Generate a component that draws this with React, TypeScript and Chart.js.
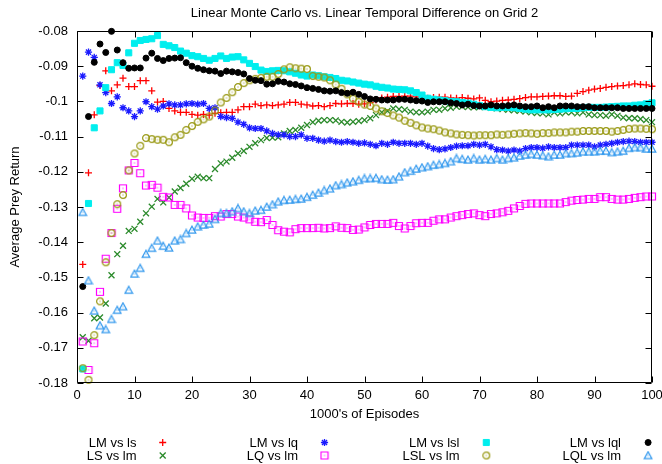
import React, { useEffect, useRef } from 'react';
import { Chart, registerables } from 'chart.js';
import { drawPoint } from 'chart.js/helpers';

Chart.register(...registerables);

const FONT = '"Liberation Sans", Arial, sans-serif';

const chartTitle = 'Linear Monte Carlo vs. Linear Temporal Difference on Grid 2';
const xAxisTitle = "1000's of Episodes";
const yAxisTitle = 'Average Prey Return';

const episodes = [
  1, 2, 3, 4, 5, 6, 7, 8, 9, 10,
  11, 12, 13, 14, 15, 16, 17, 18, 19, 20,
  21, 22, 23, 24, 25, 26, 27, 28, 29, 30,
  31, 32, 33, 34, 35, 36, 37, 38, 39, 40,
  41, 42, 43, 44, 45, 46, 47, 48, 49, 50,
  51, 52, 53, 54, 55, 56, 57, 58, 59, 60,
  61, 62, 63, 64, 65, 66, 67, 68, 69, 70,
  71, 72, 73, 74, 75, 76, 77, 78, 79, 80,
  81, 82, 83, 84, 85, 86, 87, 88, 89, 90,
  91, 92, 93, 94, 95, 96, 97, 98, 99, 100,
];

const lmVsLs = [
  -0.1463, -0.1203, -0.1038, -0.0955, -0.0913, -0.0970, -0.0953, -0.0934, -0.0958, -0.0958,
  -0.0941, -0.0941, -0.0970, -0.1002, -0.1000, -0.1020, -0.1027, -0.1031, -0.1031, -0.1037,
  -0.1039, -0.1037, -0.1039, -0.1034, -0.1032, -0.1031, -0.1031, -0.1024, -0.1015, -0.1015,
  -0.1008, -0.1012, -0.1010, -0.1012, -0.1010, -0.1008, -0.1003, -0.1003, -0.1008, -0.1010,
  -0.1013, -0.1012, -0.1015, -0.1012, -0.1006, -0.1007, -0.1006, -0.1006, -0.1008, -0.1007,
  -0.1003, -0.0996, -0.0990, -0.0988, -0.0986, -0.0986, -0.0985, -0.0985, -0.0987, -0.0989,
  -0.0991, -0.0989, -0.0988, -0.0988, -0.0990, -0.0991, -0.0989, -0.0991, -0.0993, -0.0990,
  -0.0997, -0.1001, -0.0999, -0.0997, -0.0996, -0.0994, -0.0992, -0.0989, -0.0987, -0.0987,
  -0.0986, -0.0985, -0.0984, -0.0984, -0.0986, -0.0985, -0.0977, -0.0972, -0.0968, -0.0965,
  -0.0963, -0.0960, -0.0958, -0.0956, -0.0955, -0.0953, -0.0950, -0.0952, -0.0953, -0.0957,
];

const lsVsLm = [
  -0.1670, -0.1680, -0.1616, -0.1614, -0.1574, -0.1494, -0.1434, -0.1410, -0.1368, -0.1362,
  -0.1342, -0.1318, -0.1299, -0.1277, -0.1287, -0.1273, -0.1256, -0.1246, -0.1234, -0.1220,
  -0.1214, -0.1218, -0.1218, -0.1192, -0.1176, -0.1171, -0.1160, -0.1148, -0.1141, -0.1129,
  -0.1119, -0.1110, -0.1104, -0.1103, -0.1102, -0.1091, -0.1084, -0.1081, -0.1075, -0.1067,
  -0.1059, -0.1055, -0.1053, -0.1053, -0.1054, -0.1058, -0.1060, -0.1058, -0.1056, -0.1053,
  -0.1048, -0.1039, -0.1031, -0.1027, -0.1020, -0.1022, -0.1024, -0.1029, -0.1031, -0.1031,
  -0.1029, -0.1024, -0.1024, -0.1020, -0.1018, -0.1015, -0.1015, -0.1016, -0.1017, -0.1016,
  -0.1016, -0.1018, -0.1020, -0.1022, -0.1024, -0.1025, -0.1027, -0.1029, -0.1031, -0.1033,
  -0.1034, -0.1037, -0.1031, -0.1034, -0.1031, -0.1031, -0.1034, -0.1031, -0.1037, -0.1039,
  -0.1039, -0.1041, -0.1037, -0.1041, -0.1046, -0.1048, -0.1048, -0.1050, -0.1053, -0.1059,
];

const lmVsLq = [
  -0.0928, -0.0860, -0.0875, -0.0953, -0.0975, -0.1006, -0.0987, -0.1018, -0.1027, -0.1043,
  -0.1027, -0.1001, -0.1015, -0.1022, -0.1013, -0.1007, -0.1010, -0.1010, -0.1007, -0.1006,
  -0.1008, -0.1006, -0.1020, -0.1018, -0.1043, -0.1046, -0.1048, -0.1059, -0.1065, -0.1075,
  -0.1077, -0.1077, -0.1084, -0.1091, -0.1095, -0.1095, -0.1100, -0.1100, -0.1095, -0.1105,
  -0.1105, -0.1110, -0.1113, -0.1110, -0.1114, -0.1116, -0.1114, -0.1116, -0.1119, -0.1118,
  -0.1122, -0.1126, -0.1119, -0.1122, -0.1116, -0.1119, -0.1119, -0.1119, -0.1122, -0.1119,
  -0.1127, -0.1134, -0.1137, -0.1135, -0.1131, -0.1127, -0.1126, -0.1126, -0.1122, -0.1124,
  -0.1122, -0.1129, -0.1137, -0.1138, -0.1141, -0.1138, -0.1141, -0.1134, -0.1131, -0.1131,
  -0.1133, -0.1129, -0.1131, -0.1131, -0.1131, -0.1124, -0.1124, -0.1124, -0.1124, -0.1129,
  -0.1124, -0.1122, -0.1119, -0.1116, -0.1114, -0.1113, -0.1114, -0.1116, -0.1116, -0.1116,
];

const lqVsLm = [
  -0.1682, -0.1763, -0.1687, -0.1541, -0.1447, -0.1374, -0.1305, -0.1247, -0.1196, -0.1175,
  -0.1204, -0.1239, -0.1237, -0.1245, -0.1271, -0.1273, -0.1294, -0.1294, -0.1304, -0.1324,
  -0.1330, -0.1331, -0.1331, -0.1326, -0.1327, -0.1320, -0.1320, -0.1327, -0.1330, -0.1335,
  -0.1342, -0.1343, -0.1337, -0.1351, -0.1366, -0.1370, -0.1372, -0.1363, -0.1360, -0.1360,
  -0.1360, -0.1359, -0.1361, -0.1360, -0.1355, -0.1359, -0.1360, -0.1365, -0.1364, -0.1358,
  -0.1351, -0.1348, -0.1348, -0.1348, -0.1345, -0.1354, -0.1361, -0.1354, -0.1346, -0.1345,
  -0.1345, -0.1339, -0.1335, -0.1335, -0.1330, -0.1326, -0.1323, -0.1320, -0.1318, -0.1323,
  -0.1326, -0.1320, -0.1318, -0.1315, -0.1311, -0.1304, -0.1297, -0.1291, -0.1290, -0.1290,
  -0.1290, -0.1290, -0.1290, -0.1290, -0.1286, -0.1282, -0.1280, -0.1279, -0.1277, -0.1277,
  -0.1272, -0.1272, -0.1277, -0.1279, -0.1279, -0.1277, -0.1274, -0.1272, -0.1270, -0.1270,
];

const lmVsLsl = [
  -0.1760, -0.1290, -0.1075, -0.1027, -0.0961, -0.0910, -0.0890, -0.0898, -0.0862, -0.0835,
  -0.0827, -0.0824, -0.0822, -0.0813, -0.0838, -0.0842, -0.0847, -0.0857, -0.0863, -0.0870,
  -0.0873, -0.0878, -0.0883, -0.0878, -0.0871, -0.0878, -0.0874, -0.0873, -0.0882, -0.0892,
  -0.0901, -0.0911, -0.0915, -0.0913, -0.0912, -0.0913, -0.0916, -0.0920, -0.0925, -0.0928,
  -0.0925, -0.0927, -0.0930, -0.0932, -0.0935, -0.0940, -0.0942, -0.0945, -0.0948, -0.0951,
  -0.0953, -0.0957, -0.0960, -0.0962, -0.0965, -0.0966, -0.0967, -0.0970, -0.0975, -0.0982,
  -0.0991, -0.0994, -0.0996, -0.0998, -0.1000, -0.1001, -0.1003, -0.1005, -0.1008, -0.1012,
  -0.1015, -0.1017, -0.1018, -0.1017, -0.1017, -0.1018, -0.1020, -0.1022, -0.1024, -0.1024,
  -0.1024, -0.1024, -0.1023, -0.1022, -0.1021, -0.1020, -0.1020, -0.1018, -0.1017, -0.1017,
  -0.1017, -0.1016, -0.1015, -0.1014, -0.1013, -0.1013, -0.1011, -0.1010, -0.1007, -0.1004,
];

const lslVsLm = [
  -0.1758, -0.1791, -0.1664, -0.1568, -0.1457, -0.1374, -0.1292, -0.1266, -0.1196, -0.1148,
  -0.1126, -0.1104, -0.1107, -0.1109, -0.1109, -0.1116, -0.1102, -0.1095, -0.1081, -0.1070,
  -0.1058, -0.1051, -0.1043, -0.1026, -0.1003, -0.0990, -0.0974, -0.0959, -0.0948, -0.0940,
  -0.0936, -0.0933, -0.0930, -0.0930, -0.0922, -0.0909, -0.0903, -0.0906, -0.0907, -0.0908,
  -0.0928, -0.0930, -0.0932, -0.0940, -0.0952, -0.0964, -0.0980, -0.0992, -0.1001, -0.1009,
  -0.1013, -0.1020, -0.1028, -0.1033, -0.1040, -0.1046, -0.1055, -0.1061, -0.1068, -0.1074,
  -0.1077, -0.1079, -0.1083, -0.1088, -0.1091, -0.1094, -0.1095, -0.1096, -0.1097, -0.1096,
  -0.1096, -0.1096, -0.1094, -0.1095, -0.1094, -0.1092, -0.1091, -0.1090, -0.1091, -0.1092,
  -0.1090, -0.1090, -0.1088, -0.1088, -0.1088, -0.1086, -0.1086, -0.1084, -0.1084, -0.1084,
  -0.1084, -0.1084, -0.1086, -0.1084, -0.1081, -0.1078, -0.1077, -0.1077, -0.1078, -0.1079,
];

const lmVsLql = [
  -0.1526, -0.1043, -0.0889, -0.0837, -0.0861, -0.0801, -0.0854, -0.0890, -0.0906, -0.0905,
  -0.0905, -0.0877, -0.0863, -0.0878, -0.0884, -0.0878, -0.0877, -0.0876, -0.0890, -0.0900,
  -0.0906, -0.0910, -0.0913, -0.0914, -0.0921, -0.0914, -0.0916, -0.0918, -0.0922, -0.0935,
  -0.0940, -0.0941, -0.0951, -0.0950, -0.0943, -0.0945, -0.0950, -0.0952, -0.0956, -0.0961,
  -0.0963, -0.0966, -0.0970, -0.0971, -0.0970, -0.0975, -0.0977, -0.0974, -0.0980, -0.0986,
  -0.0993, -0.0994, -0.0996, -0.0996, -0.0996, -0.0994, -0.0994, -0.0996, -0.0998, -0.0999,
  -0.1003, -0.1001, -0.1001, -0.1001, -0.1004, -0.1006, -0.1010, -0.1008, -0.1012, -0.1013,
  -0.1013, -0.1010, -0.1013, -0.1013, -0.1012, -0.1010, -0.1013, -0.1015, -0.1015, -0.1013,
  -0.1018, -0.1015, -0.1018, -0.1013, -0.1013, -0.1013, -0.1015, -0.1015, -0.1015, -0.1018,
  -0.1018, -0.1018, -0.1018, -0.1018, -0.1020, -0.1020, -0.1020, -0.1020, -0.1020, -0.1020,
];

const lqlVsLm = [
  -0.1315, -0.1509, -0.1595, -0.1637, -0.1648, -0.1619, -0.1593, -0.1583, -0.1536, -0.1490,
  -0.1474, -0.1434, -0.1417, -0.1396, -0.1411, -0.1416, -0.1396, -0.1392, -0.1375, -0.1365,
  -0.1356, -0.1351, -0.1348, -0.1335, -0.1318, -0.1318, -0.1313, -0.1304, -0.1313, -0.1318,
  -0.1311, -0.1309, -0.1300, -0.1293, -0.1285, -0.1281, -0.1280, -0.1278, -0.1277, -0.1272,
  -0.1266, -0.1260, -0.1253, -0.1248, -0.1239, -0.1236, -0.1231, -0.1228, -0.1224, -0.1219,
  -0.1219, -0.1218, -0.1222, -0.1223, -0.1222, -0.1214, -0.1202, -0.1198, -0.1192, -0.1188,
  -0.1185, -0.1181, -0.1179, -0.1176, -0.1171, -0.1162, -0.1164, -0.1166, -0.1162, -0.1166,
  -0.1164, -0.1166, -0.1162, -0.1166, -0.1162, -0.1160, -0.1155, -0.1152, -0.1150, -0.1152,
  -0.1154, -0.1157, -0.1152, -0.1152, -0.1148, -0.1148, -0.1146, -0.1143, -0.1143, -0.1143,
  -0.1141, -0.1141, -0.1145, -0.1143, -0.1141, -0.1133, -0.1131, -0.1131, -0.1135, -0.1135,
];

const seriesLabels = [
  'LM vs ls', 'LS vs lm', 'LM vs lq', 'LQ vs lm',
  'LM vs lsl', 'LSL vs lm', 'LM vs lql', 'LQL vs lm',
];
const seriesValues = [lmVsLs, lsVsLm, lmVsLq, lqVsLm, lmVsLsl, lslVsLm, lmVsLql, lqlVsLm];
const seriesColors = ['#ff0000', '#2a8a2a', '#1a1aff', '#ff00ff', '#00eeee', '#999914', '#000000', '#3399ee'];

const xMin = 0;
const xMax = 100;
const yMin = -0.18;
const yMax = -0.08;
const xTicks = [0, 10, 20, 30, 40, 50, 60, 70, 80, 90, 100];
const xTickLabels = ['0', '10', '20', '30', '40', '50', '60', '70', '80', '90', '100'];
const yTicks = [-0.18, -0.17, -0.16, -0.15, -0.14, -0.13, -0.12, -0.11, -0.1, -0.09, -0.08];
const yTickLabels = ['-0.18', '-0.17', '-0.16', '-0.15', '-0.14', '-0.13', '-0.12', '-0.11', '-0.1', '-0.09', '-0.08'];

// Pixel box the plotting area should occupy on the 662x464 canvas.
const PLOT = { left: 77, right: 652, top: 31, bottom: 383 };

type Kind = 'box' | 'circle' | 'triangle';
type Marker = { pointStyle: any; radius: number; lineWidth: number };

// Outlined gnuplot-style symbol with a dot in its centre.
function makeMarker(color: string, kind: Kind): HTMLCanvasElement {
  const c = document.createElement('canvas');
  c.width = 10;
  c.height = 10;
  const g = c.getContext('2d')!;
  g.strokeStyle = color;
  g.fillStyle = color;
  g.lineWidth = 1.2;
  g.beginPath();
  if (kind === 'box') {
    g.rect(1.5, 1.5, 7, 7);
  } else if (kind === 'circle') {
    g.arc(5, 5, 3.4, 0, Math.PI * 2);
  } else {
    g.moveTo(5, 1.2);
    g.lineTo(8.8, 8.2);
    g.lineTo(1.2, 8.2);
    g.closePath();
  }
  g.stroke();
  g.fillRect(4.5, 4.5, 1, 1);
  return c;
}

function markerStyles(): Marker[] {
  return [
    { pointStyle: 'cross', radius: 3.5, lineWidth: 1.3 },
    { pointStyle: 'crossRot', radius: 4.2, lineWidth: 1.3 },
    { pointStyle: 'star', radius: 3.6, lineWidth: 1.3 },
    { pointStyle: makeMarker(seriesColors[3], 'box'), radius: 4, lineWidth: 1 },
    { pointStyle: 'rect', radius: 4.3, lineWidth: 1 },
    { pointStyle: makeMarker(seriesColors[5], 'circle'), radius: 4, lineWidth: 1 },
    { pointStyle: 'circle', radius: 3, lineWidth: 1 },
    { pointStyle: makeMarker(seriesColors[7], 'triangle'), radius: 4, lineWidth: 1 },
  ];
}

const TICK_LEN = 6;

// Border box, inward mirrored ticks, titles and the two-row key.
function makeFramePlugin(markers: Marker[]) {
  return {
    id: 'gnuplotFrame',
    afterDraw(chart: any) {
      const { ctx, scales } = chart;
      const xs = scales.x;
      const ys = scales.y;
      ctx.save();
      ctx.strokeStyle = '#000';
      ctx.lineWidth = 1;
      const L = Math.round(xs.getPixelForValue(xMin)) + 0.5;
      const R = Math.round(xs.getPixelForValue(xMax)) - 0.5;
      const T = Math.round(ys.getPixelForValue(yMax)) + 0.5;
      const B = Math.round(ys.getPixelForValue(yMin)) - 0.5;
      ctx.beginPath();
      ctx.rect(L, T, R - L, B - T);
      for (const v of xTicks) {
        const px = Math.round(xs.getPixelForValue(v)) + 0.5;
        ctx.moveTo(px, B);
        ctx.lineTo(px, B - TICK_LEN);
        ctx.moveTo(px, T);
        ctx.lineTo(px, T + TICK_LEN);
      }
      for (const v of yTicks) {
        const py = Math.round(ys.getPixelForValue(v)) + 0.5;
        ctx.moveTo(L, py);
        ctx.lineTo(L + TICK_LEN, py);
        ctx.moveTo(R, py);
        ctx.lineTo(R - TICK_LEN, py);
      }
      ctx.stroke();

      ctx.fillStyle = '#000';
      ctx.font = `13px ${FONT}`;
      ctx.textAlign = 'center';
      ctx.textBaseline = 'alphabetic';
      const cx = (L + R) / 2;
      ctx.fillText(chartTitle, cx, 16.5);
      ctx.fillText(xAxisTitle, cx, 418);
      ctx.save();
      ctx.translate(19, (T + B) / 2);
      ctx.rotate(-Math.PI / 2);
      ctx.fillText(yAxisTitle, 0, 0);
      ctx.restore();

      ctx.textAlign = 'right';
      for (let i = 0; i < seriesLabels.length; i++) {
        const col = Math.floor(i / 2);
        const row = i % 2;
        const textRight = 136.5 + 161.5 * col;
        const symX = 162.7 + 161.8 * col;
        const baseY = 447 + 13 * row;
        ctx.fillStyle = '#000';
        ctx.fillText(seriesLabels[i], textRight, baseY);
        ctx.fillStyle = seriesColors[i];
        ctx.strokeStyle = seriesColors[i];
        ctx.lineWidth = markers[i].lineWidth;
        drawPoint(
          ctx,
          {
            pointStyle: markers[i].pointStyle,
            radius: markers[i].radius,
            rotation: 0,
            borderWidth: markers[i].lineWidth,
          } as any,
          symX,
          baseY - 4.5,
        );
      }
      ctx.restore();
    },
  };
}

export default function App() {
  const ref = useRef<HTMLCanvasElement>(null);

  useEffect(() => {
    const canvas = ref.current;
    if (!canvas) return;
    const markers = markerStyles();
    const datasets = seriesValues.map((vals, i) => ({
      label: seriesLabels[i],
      data: episodes.map((x, j) => ({ x, y: vals[j] })),
      pointStyle: markers[i].pointStyle,
      pointRadius: markers[i].radius,
      pointBorderWidth: markers[i].lineWidth,
      borderColor: seriesColors[i],
      backgroundColor: seriesColors[i],
      pointBorderColor: seriesColors[i],
      pointBackgroundColor: seriesColors[i],
      showLine: false,
      clip: false as any,
      order: 7 - i,
    }));

    const dims = { yAxisWidth: PLOT.left, xAxisHeight: 464 - PLOT.bottom };
    const padding = { left: 0, right: 662 - PLOT.right, top: PLOT.top, bottom: 0 };
    const tickFont = { family: FONT, size: 13 };

    const chart = new Chart(canvas, {
      type: 'scatter',
      data: { datasets },
      options: {
        animation: false,
        responsive: false,
        devicePixelRatio: 1,
        events: [],
        layout: { padding },
        plugins: {
          legend: { display: false },
          title: { display: false },
          tooltip: { enabled: false },
        },
        scales: {
          x: {
            type: 'linear',
            min: xMin,
            max: xMax,
            grid: { display: false, drawTicks: false },
            border: { display: false },
            afterBuildTicks: (s: any) => {
              s.ticks = xTicks.map((v) => ({ value: v }));
            },
            afterFit: (s: any) => {
              s.height = dims.xAxisHeight;
              // let the end labels hang past the plot edges instead of shrinking it
              s.paddingLeft = 0;
              s.paddingRight = 0;
            },
            ticks: {
              autoSkip: false,
              maxRotation: 0,
              padding: 5,
              color: '#000',
              font: tickFont,
              callback: (_v: any, i: number) => xTickLabels[i],
            },
          },
          y: {
            type: 'linear',
            min: yMin,
            max: yMax,
            grid: { display: false, drawTicks: false },
            border: { display: false },
            afterBuildTicks: (s: any) => {
              s.ticks = yTicks.map((v) => ({ value: v }));
            },
            afterFit: (s: any) => {
              s.width = dims.yAxisWidth;
              s.paddingTop = 0;
              s.paddingBottom = 0;
            },
            ticks: {
              autoSkip: false,
              padding: 9,
              color: '#000',
              font: tickFont,
              callback: (_v: any, i: number) => yTickLabels[i],
            },
          },
        },
      },
      plugins: [makeFramePlugin(markers)],
    } as any);

    // Nudge paddings until the axes land on the intended plot box.
    for (let k = 0; k < 3; k++) {
      const xs: any = chart.scales.x;
      const ys: any = chart.scales.y;
      const dL = xs.getPixelForValue(xMin) - PLOT.left;
      const dR = xs.getPixelForValue(xMax) - PLOT.right;
      const dT = ys.getPixelForValue(yMax) - PLOT.top;
      const dB = ys.getPixelForValue(yMin) - PLOT.bottom;
      if (Math.abs(dL) + Math.abs(dR) + Math.abs(dT) + Math.abs(dB) < 0.5) break;
      dims.yAxisWidth -= dL;
      padding.right += dR;
      padding.top -= dT;
      dims.xAxisHeight += dB;
      chart.update();
    }

    return () => chart.destroy();
  }, []);

  return (
    <div style={{ position: 'fixed', left: 0, top: 0, width: 662, height: 464, background: '#fff' }}>
      <canvas ref={ref} width={662} height={464} style={{ display: 'block', width: 662, height: 464 }} />
    </div>
  );
}
